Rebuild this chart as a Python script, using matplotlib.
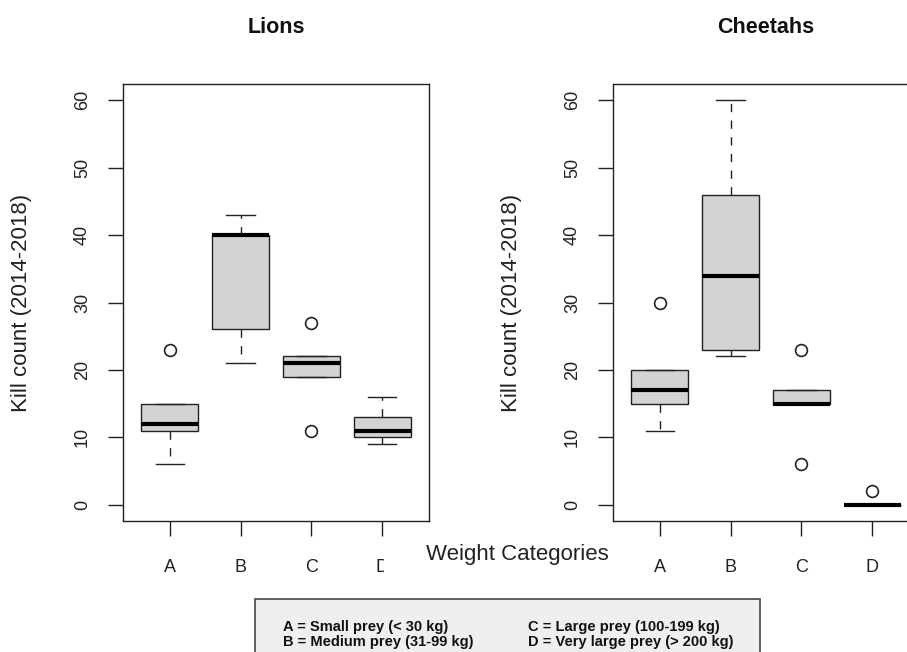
import matplotlib
matplotlib.use("Agg")
import matplotlib.pyplot as plt
from matplotlib.patches import Rectangle

plt.rcParams["font.family"] = ["Liberation Sans", "DejaVu Sans"]

categories = ["A", "B", "C", "D"]
titles = ["Lions", "Cheetahs"]
yticks = [0, 10, 20, 30, 40, 50, 60]

# five-number summaries
lions_lo = [6, 21, 19, 9]
lions_q1 = [11, 26, 19, 10]
lions_med = [12, 40, 21, 11]
lions_q3 = [15, 40, 22, 13]
lions_hi = [15, 43, 22, 16]
lions_out = [[23], [], [27, 11], []]

cheetah_lo = [11, 22, 15, 0]
cheetah_q1 = [15, 23, 15, 0]
cheetah_med = [17, 34, 15, 0]
cheetah_q3 = [20, 46, 17, 0]
cheetah_hi = [20, 60, 17, 0]
cheetah_out = [[30], [], [23, 6], [2]]

legend_left = ["A = Small prey (< 30 kg)", "B = Medium prey (31-99 kg)"]
legend_right = ["C = Large prey (100-199 kg)", "D = Very large prey (> 200 kg)"]


def stats(lo, q1, med, q3, hi, out):
    return [dict(whislo=a, q1=b, med=c, q3=d, whishi=e, fliers=f)
            for a, b, c, d, e, f in zip(lo, q1, med, q3, hi, out)]


W, H = 907, 652
fig = plt.figure(figsize=(W / 100, H / 100), dpi=100)

dark = "#222222"
panels = [
    (123, stats(lions_lo, lions_q1, lions_med, lions_q3, lions_hi, lions_out)),
    (613, stats(cheetah_lo, cheetah_q1, cheetah_med, cheetah_q3, cheetah_hi, cheetah_out)),
]

for i, (left, st) in enumerate(panels):
    ax = fig.add_axes([left / W, 1 - 521 / H, 306 / W, (521 - 84) / H])
    ax.bxp(st, positions=range(1, 5), widths=0.8, capwidths=0.4,
           patch_artist=True,
           boxprops=dict(facecolor="#D3D3D3", edgecolor=dark, linewidth=1),
           medianprops=dict(color="black", linewidth=3, solid_capstyle="butt"),
           whiskerprops=dict(color=dark, linewidth=1, linestyle=(0, (6, 6))),
           capprops=dict(color=dark, linewidth=1),
           flierprops=dict(marker="o", markerfacecolor="none",
                           markeredgecolor=dark, markersize=8.5,
                           markeredgewidth=1.2))
    ax.set_xlim(0.34, 4.66)
    ax.set_ylim(-2.4, 62.4)
    ax.set_xticks(range(1, 5))
    ax.set_xticklabels(categories)
    ax.set_yticks(yticks)
    ax.tick_params(axis="both", length=11, width=1, color=dark,
                   labelsize=13, labelcolor=dark)
    ax.tick_params(axis="x", pad=16)
    ax.tick_params(axis="y", pad=12, labelrotation=90)
    for lbl in ax.get_yticklabels():
        lbl.set_va("center")
    for s in ax.spines.values():
        s.set_color(dark)
        s.set_linewidth(1)
    ax.set_title(titles[i], fontsize=15.5, fontweight="bold", pad=37, color="#111111")
    fig.text((left - 101) / W, 1 - 303 / H, "Kill count (2014-2018)",
             rotation=90, ha="center", va="center", fontsize=16, color=dark)

# white patch that hides half of the left "D", as in the original
fig.patches.append(Rectangle((384 / W, 1 - 585 / H), 40 / W, 30 / H,
                             transform=fig.transFigure, facecolor="white",
                             edgecolor="none", zorder=2))

fig.text(517.5 / W, 1 - 560 / H, "Weight Categories", ha="center",
         va="baseline", fontsize=16, color=dark, zorder=3)

fig.patches.append(Rectangle((255 / W, -0.1), 505 / W, 0.1 + 1 - 599 / H,
                             transform=fig.transFigure, facecolor="#EFEFEF",
                             edgecolor="#555555", linewidth=1.3, zorder=2))
for j in range(2):
    yb = 1 - (631 + 15 * j) / H
    fig.text(283 / W, yb, legend_left[j], fontsize=10.5, fontweight="bold",
             va="baseline", color="#111111", zorder=3)
    fig.text(528 / W, yb, legend_right[j], fontsize=10.5, fontweight="bold",
             va="baseline", color="#111111", zorder=3)

fig.savefig("out.png", dpi=100)
